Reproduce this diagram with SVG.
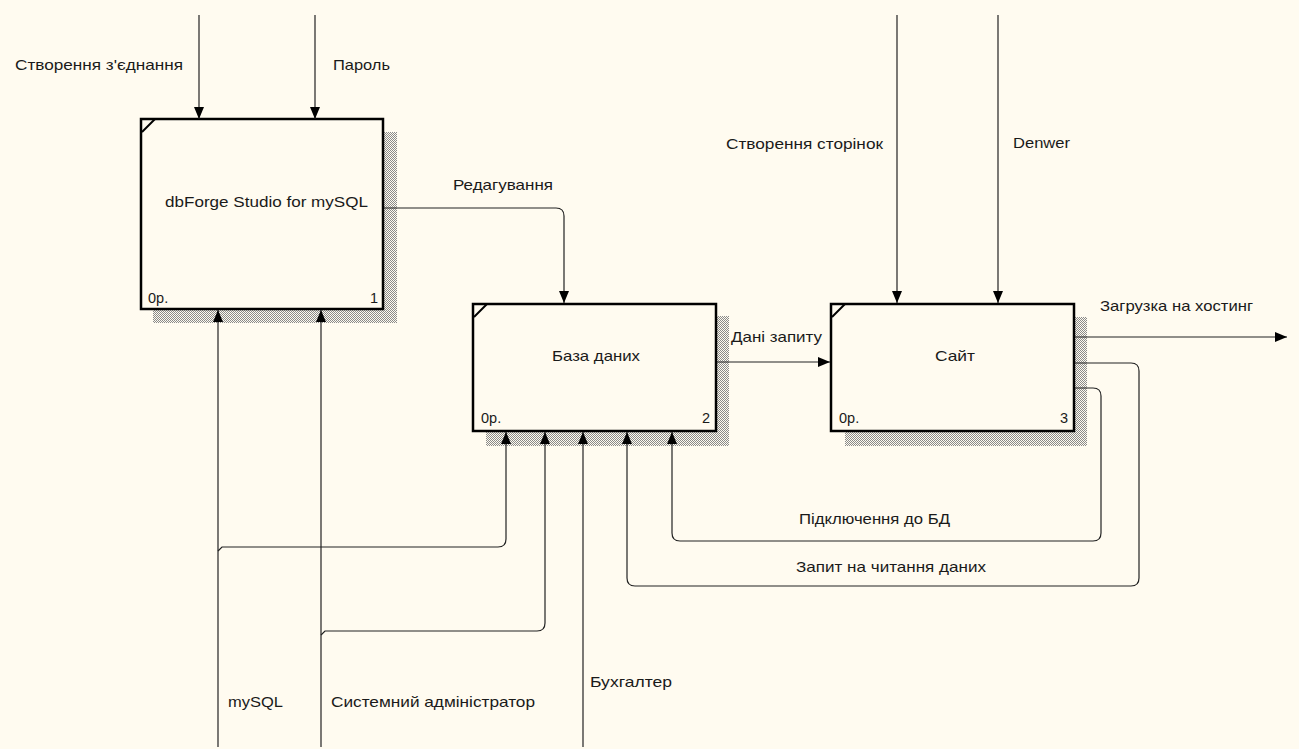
<svg xmlns="http://www.w3.org/2000/svg" width="1299" height="749" viewBox="0 0 1299 749">
<defs>
<pattern id="hatch" width="2" height="2" patternUnits="userSpaceOnUse">
<rect width="2" height="2" fill="#fffbf0"/>
<rect x="0" y="0" width="1" height="1" fill="#8a8a8a"/>
<rect x="1" y="1" width="1" height="1" fill="#8a8a8a"/>
</pattern>
<marker id="arr" markerUnits="userSpaceOnUse" markerWidth="12" markerHeight="12" viewBox="0 0 12 12" refX="12" refY="6" orient="auto">
<path d="M0,1 L12,6 L0,11 Z" fill="#000"/>
</marker>
<style>
.bg{fill:#fffbf0}
.shadow{fill:url(#hatch)}
.box{fill:#fffbf0;stroke:#000;stroke-width:2.5}
.tick{stroke:#000;stroke-width:2;fill:none}
.ln{fill:none;stroke:#222;stroke-width:1.2}
.t{font-family:"Liberation Sans",Arial,sans-serif;font-size:14.5px;fill:#1a1a1a}
</style>
</defs>
<rect class="bg" x="0" y="0" width="1299" height="749"/>

<g id="node1">
<rect class="shadow" x="153" y="132" width="244" height="191"/>
<rect class="box" x="141" y="119" width="242" height="190"/>
<path class="tick" d="M142,132 L155,119"/>
<text class="t" x="165" y="207" textLength="203" lengthAdjust="spacingAndGlyphs">dbForge Studio for mySQL</text>
<text class="t" x="148" y="303">0р.</text>
<text class="t" x="378" y="303" text-anchor="end">1</text>
</g>

<g id="node2">
<rect class="shadow" x="486" y="316" width="243" height="130"/>
<rect class="box" x="473" y="304" width="243" height="127"/>
<path class="tick" d="M474,317 L487,304"/>
<text class="t" x="552" y="361" textLength="88" lengthAdjust="spacingAndGlyphs">База даних</text>
<text class="t" x="481" y="423">0р.</text>
<text class="t" x="710" y="423" text-anchor="end">2</text>
</g>

<g id="node3">
<rect class="shadow" x="845" y="317" width="242" height="129"/>
<rect class="box" x="831" y="304" width="243" height="127"/>
<path class="tick" d="M832,317 L845,304"/>
<text class="t" x="935" y="361" textLength="40" lengthAdjust="spacingAndGlyphs">Сайт</text>
<text class="t" x="839" y="423">0р.</text>
<text class="t" x="1068" y="423" text-anchor="end">3</text>
</g>

<g id="connectors">
<path class="ln" d="M199,15 L199,119" marker-end="url(#arr)"/>
<path class="ln" d="M315,15 L315,119" marker-end="url(#arr)"/>
<path class="ln" d="M218,747 L218,310" marker-end="url(#arr)"/>
<path class="ln" d="M321,747 L321,310" marker-end="url(#arr)"/>
<path class="ln" d="M218,551 L222,547 L498,547 Q506,547 506,539 L506,432" marker-end="url(#arr)"/>
<path class="ln" d="M321,635 L325,631 L537,631 Q545,631 545,623 L545,432" marker-end="url(#arr)"/>
<path class="ln" d="M583,747 L583,432" marker-end="url(#arr)"/>
<path class="ln" d="M384,208 L556,208 Q564,208 564,216 L564,303" marker-end="url(#arr)"/>
<path class="ln" d="M717,362 L830,362" marker-end="url(#arr)"/>
<path class="ln" d="M897,15 L897,303" marker-end="url(#arr)"/>
<path class="ln" d="M998,15 L998,303" marker-end="url(#arr)"/>
<path class="ln" d="M1075,337 L1287,337" marker-end="url(#arr)"/>
<path class="ln" d="M1075,363 L1131,363 Q1139,363 1139,371 L1139,578 Q1139,586 1131,586 L635,586 Q627,586 627,578 L627,432" marker-end="url(#arr)"/>
<path class="ln" d="M1075,388 L1093,388 Q1101,388 1101,396 L1101,533 Q1101,541 1093,541 L680,541 Q672,541 672,533 L672,432" marker-end="url(#arr)"/>
</g>

<g id="labels">
<text class="t" x="15" y="70" textLength="168" lengthAdjust="spacingAndGlyphs">Створення з'єднання</text>
<text class="t" x="333" y="70" textLength="57" lengthAdjust="spacingAndGlyphs">Пароль</text>
<text class="t" x="453" y="190" textLength="100" lengthAdjust="spacingAndGlyphs">Редагування</text>
<text class="t" x="731" y="342" textLength="91" lengthAdjust="spacingAndGlyphs">Дані запиту</text>
<text class="t" x="726" y="149" textLength="157" lengthAdjust="spacingAndGlyphs">Створення сторінок</text>
<text class="t" x="1013" y="148" textLength="57" lengthAdjust="spacingAndGlyphs">Denwer</text>
<text class="t" x="1100" y="311" textLength="153" lengthAdjust="spacingAndGlyphs">Загрузка на хостинг</text>
<text class="t" x="799" y="524" textLength="151" lengthAdjust="spacingAndGlyphs">Підключення до БД</text>
<text class="t" x="796" y="572" textLength="190" lengthAdjust="spacingAndGlyphs">Запит на читання даних</text>
<text class="t" x="228" y="707" textLength="55" lengthAdjust="spacingAndGlyphs">mySQL</text>
<text class="t" x="331" y="707" textLength="204" lengthAdjust="spacingAndGlyphs">Системний адміністратор</text>
<text class="t" x="590" y="687" textLength="82" lengthAdjust="spacingAndGlyphs">Бухгалтер</text>
</g>
</svg>
